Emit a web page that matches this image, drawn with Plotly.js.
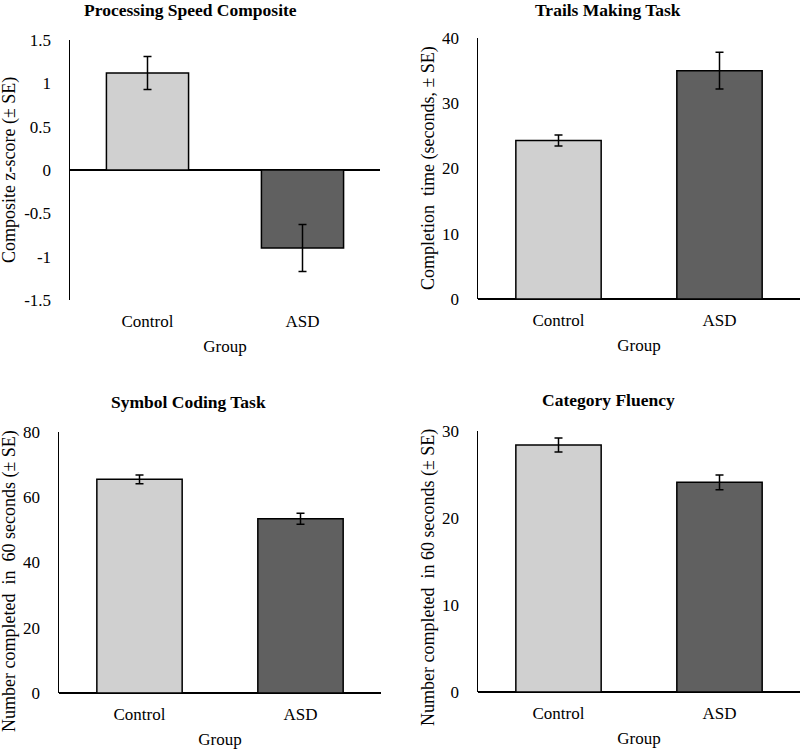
<!DOCTYPE html>
<html>
<head>
<meta charset="utf-8">
<script src="https://cdn.plot.ly/plotly-3.0.1.min.js"></script>
<style>
  html, body { margin: 0; padding: 0; background: #fff; }
  #chart { width: 800px; height: 749px; }
</style>
</head>
<body>
<div id="chart"></div>
<script>
// --- data ---
const groups = ['Control', 'ASD'];

const compositeMean = [1.12, -0.90];
const compositeSE = [0.19, 0.27];
const compositeTicks = [-1.5, -1, -0.5, 0, 0.5, 1, 1.5];
const compositeTickText = ['-1.5', '-1', '-0.5', '0', '0.5', '1', '1.5'];

const trailsMean = [24.3, 35.0];
const trailsSE = [0.85, 2.8];
const trailsTicks = [0, 10, 20, 30, 40];

const symbolMean = [65.5, 53.4];
const symbolSE = [1.35, 1.7];
const symbolTicks = [0, 20, 40, 60, 80];

const fluencyMean = [28.4, 24.1];
const fluencySE = [0.8, 0.85];
const fluencyTicks = [0, 10, 20, 30];

const barColors = ['#d0d0d0', '#606060'];
const FONT = 'Liberation Serif, Times New Roman, serif';
const W = 800, H = 749;

// pixel helpers -> paper coords
const px = x => x / W;
const py = y => 1 - y / H;

function barTrace(mean, se, n) {
    return {
        type: 'bar',
        x: groups,
        y: mean,
        width: 0.53,
        marker: { color: barColors, line: { color: '#000', width: 1.5 } },
        error_y: { type: 'data', array: se, visible: true, color: '#000', thickness: 1.5, width: 4 },
        xaxis: 'x' + (n === 1 ? '' : n),
        yaxis: 'y' + (n === 1 ? '' : n),
        hoverinfo: 'x+y',
        showlegend: false
    };
}

const traces = [
    barTrace(compositeMean, compositeSE, 1),
    barTrace(trailsMean, trailsSE, 2),
    barTrace(symbolMean, symbolSE, 3),
    barTrace(fluencyMean, fluencySE, 4)
];

function xAxis(x0, x1, anchor) {
    return {
        domain: [px(x0), px(x1)],
        anchor: anchor,
        range: [-0.5, 1.5],
        showline: false,
        showgrid: false,
        zeroline: false,
        ticks: '',
        ticklabelstandoff: 9,
        tickfont: { family: FONT, size: 17, color: '#000' },
        title: { text: 'Group', font: { family: FONT, size: 17, color: '#000' }, standoff: 10 },
        fixedrange: true
    };
}

function yAxis(y0, y1, anchor, range, tickvals, ticktext) {
    return {
        domain: [py(y1), py(y0)],
        anchor: anchor,
        range: range,
        tickvals: tickvals,
        ticktext: ticktext || tickvals.map(String),
        showline: true,
        linecolor: '#000',
        linewidth: 1.5,
        showgrid: false,
        zeroline: true,
        zerolinecolor: '#000',
        zerolinewidth: 1.5,
        ticks: '',
        ticklabelstandoff: 14,
        tickfont: { family: FONT, size: 17, color: '#000' },
        fixedrange: true
    };
}

function panelTitle(text, x, y) {
    return {
        text: '<b>' + text + '</b>', xref: 'paper', yref: 'paper',
        x: px(x), y: py(y), xanchor: 'center', yanchor: 'middle',
        showarrow: false, font: { family: FONT, size: 17.5, color: '#000' }
    };
}

function yTitle(text, x, y) {
    return {
        text: text, xref: 'paper', yref: 'paper', textangle: -90,
        x: px(x), y: py(y), xanchor: 'center', yanchor: 'middle',
        showarrow: false, font: { family: FONT, size: 18, color: '#000' }
    };
}

const layout = {
    width: W,
    height: H,
    margin: { l: 0, r: 0, t: 0, b: 0 },
    paper_bgcolor: '#fff',
    plot_bgcolor: '#fff',
    font: { family: FONT, color: '#000' },
    bargap: 0.47,

    xaxis: xAxis(70, 380, 'y'),
    yaxis: yAxis(40, 300, 'x', [-1.5, 1.5], compositeTicks, compositeTickText),

    xaxis2: xAxis(478, 800, 'y2'),
    yaxis2: yAxis(38, 299, 'x2', [0, 40], trailsTicks),

    xaxis3: xAxis(59, 381, 'y3'),
    yaxis3: yAxis(432, 693, 'x3', [0, 80], symbolTicks),

    xaxis4: xAxis(478, 800, 'y4'),
    yaxis4: yAxis(431, 692, 'x4', [0, 30], fluencyTicks),

    annotations: [
        panelTitle('Processing Speed Composite', 190, 10),
        panelTitle('Trails Making Task', 608, 10),
        panelTitle('Symbol Coding Task', 188, 402),
        panelTitle('Category Fluency', 608, 400),
        yTitle('Composite z-score (± SE)', 9, 170),
        yTitle('Completion  time (seconds, ± SE)', 428, 168),
        yTitle('Number completed  in  60 seconds (± SE)', 9, 581),
        yTitle('Number completed  in 60 seconds (± SE)', 428, 578)
    ]
};

Plotly.newPlot('chart', traces, layout, { displayModeBar: false, staticPlot: true });
</script>
</body>
</html>
